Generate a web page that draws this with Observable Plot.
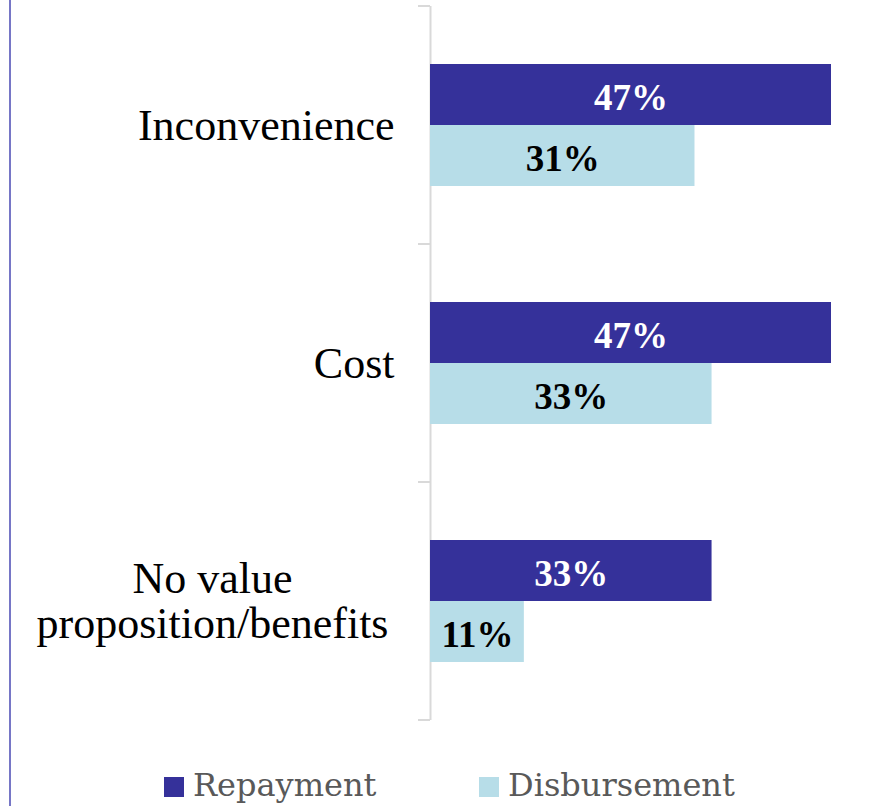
<!DOCTYPE html>
<html>
<head>
<meta charset="utf-8">
<script src="https://cdn.jsdelivr.net/npm/d3@7"></script>
<script src="https://cdn.jsdelivr.net/npm/@observablehq/plot@0.6"></script>
<style>
  html, body { margin: 0; padding: 0; background: #fff; }
  #page { position: relative; width: 871px; height: 806px; overflow: hidden; background: #fff; }
  #border { position: absolute; left: 9px; top: 0; width: 2px; height: 806px; background: #7676c6; }
  #chart { position: absolute; left: 0; top: 0; }
  #legend { position: absolute; left: 164px; top: 769px; display: flex; font-family: "DejaVu Serif", serif; font-size: 32px; line-height: 32px; color: #595959; }
  .item { display: flex; align-items: flex-start; }
  .item:first-child { width: 315px; }
  .sw { width: 20px; height: 20px; margin-top: 8px; margin-right: 9px; }
</style>
</head>
<body>
<div id="page">
  <div id="border"></div>
  <div id="chart"></div>
  <div id="legend"></div>
</div>
<script>
const categories = ["Inconvenience", "Cost", "No value\nproposition/benefits"];
const series = ["Repayment", "Disbursement"];
const repayment = [47, 47, 33];
const disbursement = [31, 33, 11];
const colors = ["#35319A", "#B7DDE8"];

const data = categories.flatMap((c, i) => [
  {cat: c, series: series[0], value: repayment[i]},
  {cat: c, series: series[1], value: disbursement[i]}
]);

const chart = Plot.plot({
  width: 871,
  height: 740,
  marginTop: 5,
  marginBottom: 20,
  marginLeft: 430,
  marginRight: 40,
  style: {background: "transparent", fontFamily: "Liberation Serif"},
  x: {domain: [0, d3.max(data, d => d.value)], axis: null},
  y: {domain: series, paddingInner: 0, paddingOuter: 0.922, axis: null},
  fy: {domain: categories, padding: 0, axis: null},
  color: {domain: series, range: colors},
  marks: [
    Plot.ruleX([0], {stroke: "#d9d9d9", strokeWidth: 2}),
    Plot.barX(data, {fy: "cat", y: "series", x: "value", fill: "series"}),
    Plot.text(data.filter(d => d.series === series[0]), {
      fy: "cat", y: "series", x: d => d.value / 2, text: d => `${d.value}%`,
      fill: "white", fontSize: 37, fontWeight: "bold", dy: 3
    }),
    Plot.text(data.filter(d => d.series === series[1]), {
      fy: "cat", y: "series", x: d => d.value / 2, text: d => `${d.value}%`,
      fill: "black", fontSize: 37, fontWeight: "bold", dy: 3
    }),
    Plot.text(categories.filter(c => !c.includes("\n")), {
      fy: d => d, text: d => d, frameAnchor: "left", textAnchor: "end",
      dx: -36, fontSize: 44, fill: "black"
    }),
    Plot.text(categories.filter(c => c.includes("\n")), {
      fy: d => d, text: d => d, frameAnchor: "left", textAnchor: "middle",
      dx: -218, fontSize: 44, lineHeight: 1.02, fill: "black"
    })
  ]
});

document.getElementById("chart").appendChild(chart);

// axis tick marks at category band boundaries, from the library's own scales
const fy = chart.scale("fy");
const xs = chart.scale("x");
if (fy && xs) {
  const x0 = xs.apply(0);
  const bounds = categories.map(c => fy.apply(c));
  bounds.push(fy.apply(categories[categories.length - 1]) + fy.bandwidth);
  d3.select(chart).append("g")
    .selectAll("line")
    .data(bounds)
    .join("line")
    .attr("x1", x0 - 12)
    .attr("x2", x0)
    .attr("y1", d => d)
    .attr("y2", d => d)
    .attr("stroke", "#d9d9d9")
    .attr("stroke-width", 2);
}

// legend
const legend = d3.select("#legend");
series.forEach((s, i) => {
  const item = legend.append("div").attr("class", "item");
  item.append("div").attr("class", "sw").style("background", colors[i]);
  item.append("span").text(s);
});
</script>
</body>
</html>
